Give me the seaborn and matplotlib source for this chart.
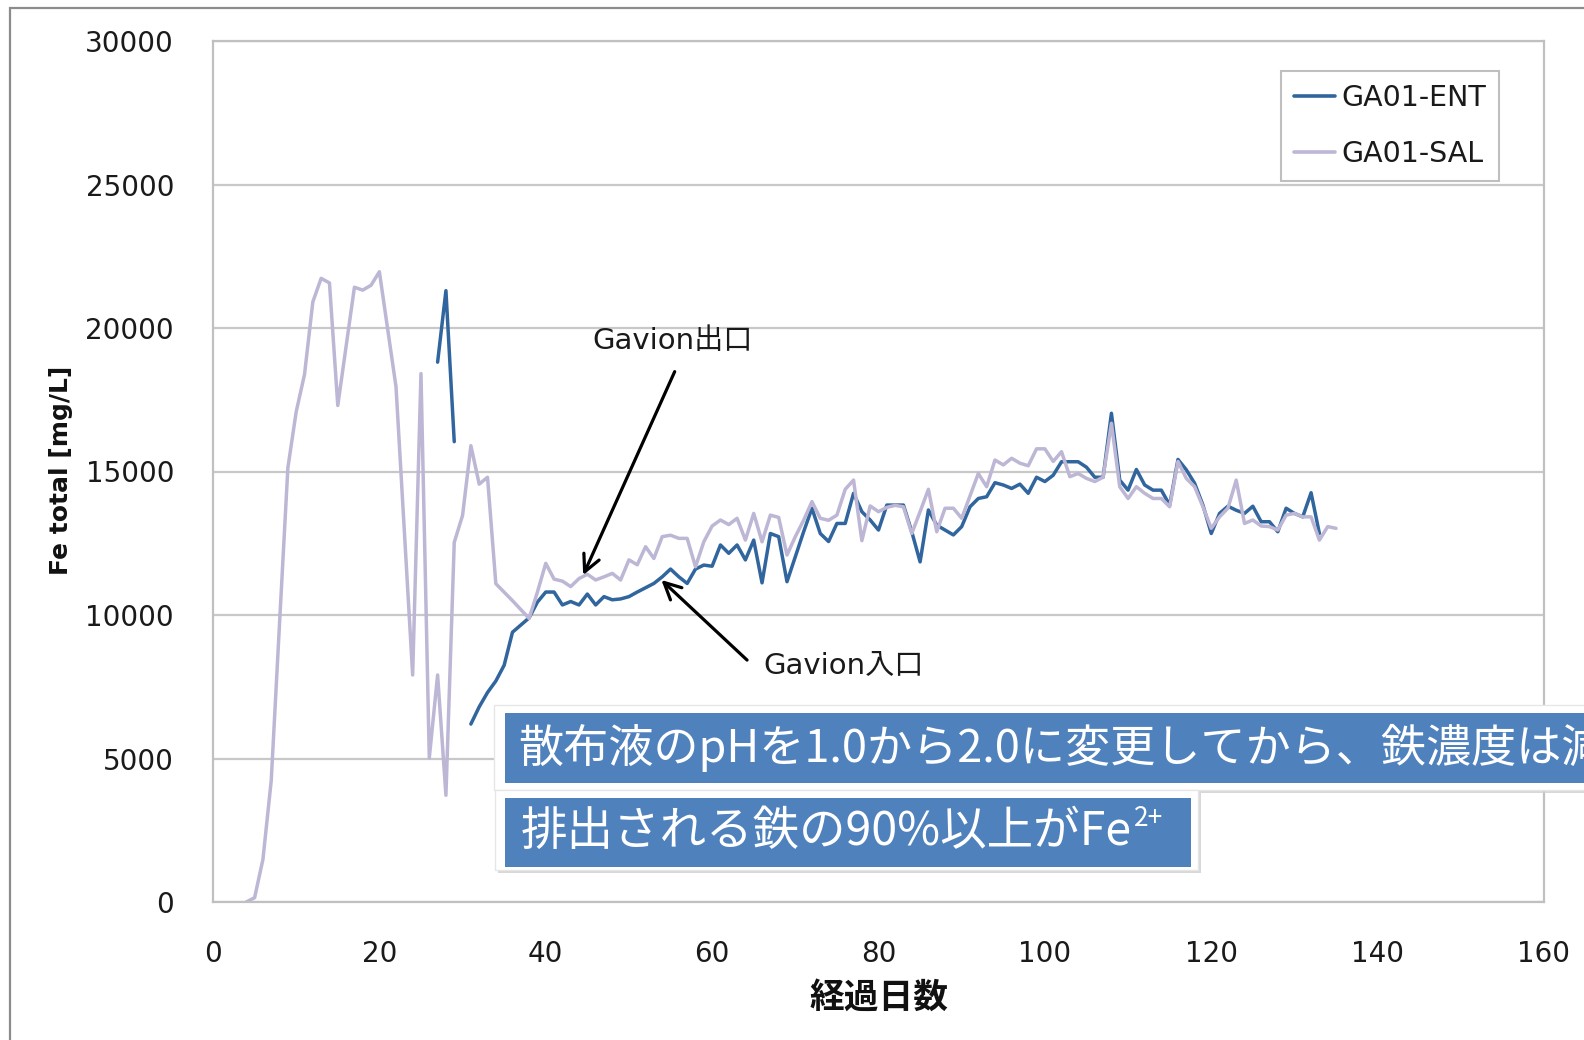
import numpy as np
import pandas as pd
import matplotlib
matplotlib.use("Agg")
import matplotlib.pyplot as plt
import seaborn as sns
from matplotlib.lines import Line2D
from matplotlib.patches import Rectangle

# ---------------- data ----------------
series_names = ["GA01-ENT", "GA01-SAL"]

# Gavion inlet (two measured stretches)
ent_days_a = [27, 28, 29]
ent_vals_a = [18810, 21300, 16040]
ent_days_b = list(range(31, 134))
ent_vals_b = [6200, 6800, 7300, 7700, 8250, 9400, 9650, 9900, 10450, 10800,
              10800, 10350, 10470, 10350, 10730, 10350, 10640, 10530, 10560, 10640,
              10800, 10950, 11100, 11330, 11600, 11330, 11100, 11600, 11740, 11700,
              12440, 12150, 12440, 11920, 12610, 11120, 12840, 12730, 11160, 12030,
              12900, 13720, 12840, 12560, 13190, 13190, 14240, 13600, 13310, 12960,
              13830, 13830, 13830, 12900, 11850, 13660, 13130, 12960, 12790, 13080,
              13770, 14060, 14120, 14610, 14530, 14410, 14560, 14240, 14800, 14650,
              14870, 15340, 15340, 15340, 15150, 14800, 14800, 17030, 14700, 14350,
              15070, 14530, 14350, 14350, 13830, 15420, 15060, 14590, 13830, 12840,
              13540, 13790, 13650, 13540, 13790, 13250, 13250, 12900, 13720, 13540,
              13420, 14260, 12840]

# Gavion outlet
sal_days = [4, 5, 6, 7, 8, 9, 10, 11, 12, 13, 14, 15, 17, 18, 19, 20, 22, 24, 25, 26,
            27, 28, 29, 30, 31, 32, 33, 34, 36, 38, 39] + list(range(40, 136))
sal_vals = [0, 150, 1480, 4230, 9720, 15130, 17080, 18380, 20910, 21730,
            21570, 17300, 21420, 21320, 21490, 21960, 17950, 7910, 18410, 5020,
            7910, 3720, 12530, 13470, 15900, 14560, 14800, 11090, 10500, 9880, 10800,
            11800, 11250, 11180, 10990, 11270, 11420, 11220, 11330, 11450, 11220,
            11920, 11750, 12380, 11970, 12730, 12780, 12670, 12670, 11680, 12550,
            13100, 13310, 13150, 13370, 12610, 13540, 12550, 13480, 13400, 12090,
            12730, 13300, 13950, 13370, 13300, 13480, 14380, 14700, 12590, 13800,
            13600, 13750, 13820, 13770, 12840, 13600, 14380, 12900, 13720, 13720,
            13370, 14150, 14930, 14470, 15400, 15230, 15460, 15290, 15200, 15790,
            15790, 15350, 15690, 14820, 14930, 14760, 14650, 14800, 16680, 14470,
            14060, 14470, 14240, 14060, 14060, 13770, 15350, 14760, 14470, 13770,
            13020, 13420, 13720, 14700, 13190, 13310, 13100, 13080, 12960, 13480,
            13540, 13420, 13420, 12610, 13080, 13020]

x_ticks = list(range(0, 161, 20))
y_ticks = list(range(0, 30001, 5000))

ent_color = "#30659d"
sal_color = "#bdb6d4"

df = pd.concat([
    pd.DataFrame({"day": ent_days_a, "fe": ent_vals_a, "series": series_names[0], "seg": "ent_a"}),
    pd.DataFrame({"day": ent_days_b, "fe": ent_vals_b, "series": series_names[0], "seg": "ent_b"}),
    pd.DataFrame({"day": sal_days, "fe": sal_vals, "series": series_names[1], "seg": "sal"}),
], ignore_index=True)

# ---------------- figure ----------------
sns.set_theme(style="white")
plt.rcParams["font.family"] = ["DejaVu Sans", "Noto Sans CJK JP"]

W, H = 1584, 1040
fig = plt.figure(figsize=(W / 100, H / 100), dpi=100, facecolor="white")


def fx(x):
    return x / W


def fy(y):
    return 1 - y / H


ax = fig.add_axes([fx(213), fy(902), fx(1544) - fx(213), fy(41) - fy(902)])

sns.lineplot(data=df, x="day", y="fe", hue="series", units="seg", estimator=None,
             palette={series_names[0]: ent_color, series_names[1]: sal_color},
             hue_order=series_names, sort=False, linewidth=2.5, ax=ax, legend=False)

ax.set_xlim(0, 160)
ax.set_ylim(0, 30000)
ax.set_xticks(x_ticks)
ax.set_yticks(y_ticks)
ax.set_xticklabels([str(v) for v in x_ticks])
ax.set_yticklabels([str(v) for v in y_ticks])
ax.set_xlabel("")
ax.set_ylabel("")
ax.grid(axis="y", color="#c8c8c8", linewidth=1.6)
ax.grid(axis="x", visible=False)
ax.set_axisbelow(True)
for sp in ax.spines.values():
    sp.set_color("#c0c0c0")
    sp.set_linewidth(1.6)
ax.tick_params(axis="y", length=0, pad=28, labelsize=20, labelcolor="#1a1a1a")
ax.tick_params(axis="x", direction="in", length=5, width=1.4, color="#c0c0c0",
               pad=27, labelsize=20, labelcolor="#1a1a1a")

# axis titles
fig.text(fx(61), fy(470), "Fe total [mg/L]", rotation=90, ha="center", va="center",
         fontsize=18, fontweight="bold", color="#111111")
fig.text(fx(879), fy(997), "経過日数", ha="center", va="center", fontsize=25,
         fontweight="bold", family=["Noto Sans CJK JP"], color="#111111")

# legend
handles = [Line2D([], [], color=ent_color, lw=2.6), Line2D([], [], color=sal_color, lw=2.6)]
leg = ax.legend(handles, series_names, loc="upper right",
                bbox_to_anchor=(fx(1499), fy(71)), bbox_transform=fig.transFigure,
                frameon=True, fancybox=False, edgecolor="#b0b0b0", fontsize=20.5,
                handlelength=1.45, handletextpad=0.22, labelspacing=1.0,
                borderpad=0.45, borderaxespad=0)
leg.get_frame().set_linewidth(1.5)
for t in leg.get_texts():
    t.set_color("#1a1a1a")

# arrows with labels
arrow_kw = dict(arrowstyle="->", color="black", lw=2.3, mutation_scale=30,
                shrinkA=0, shrinkB=0)
ax.annotate("", xy=(44.5, 11390), xytext=(55.5, 18480), arrowprops=arrow_kw)
ax.text(55.2, 19560, "Gavion出口", ha="center", va="center", fontsize=21, color="#1a1a1a")
ax.annotate("", xy=(53.9, 11220), xytext=(64.2, 8430), arrowprops=arrow_kw)
ax.text(75.85, 8240, "Gavion入口", ha="center", va="center", fontsize=21, color="#1a1a1a")

# outer chart frame (left and top edges)
fig.add_artist(Rectangle((fx(10), fy(1200)), fx(1700), fy(8) - fy(1200),
                         transform=fig.transFigure, fill=False,
                         edgecolor="#8c8c8c", linewidth=1.6))

# callout boxes
box_blue = "#4f81bd"


def callout(x0, y0, x1, y1, bx0, by0, bx1, by1):
    fig.add_artist(Rectangle((fx(x0 + 3), fy(y1 + 3)), fx(x1) - fx(x0), fy(y0) - fy(y1),
                             transform=fig.transFigure, facecolor="#cfcfcf",
                             edgecolor="none", alpha=0.8, zorder=5))
    fig.add_artist(Rectangle((fx(x0), fy(y1)), fx(x1) - fx(x0), fy(y0) - fy(y1),
                             transform=fig.transFigure, facecolor="white",
                             edgecolor="#e6e6e6", linewidth=1, zorder=6))
    fig.add_artist(Rectangle((fx(bx0), fy(by1)), fx(bx1) - fx(bx0), fy(by0) - fy(by1),
                             transform=fig.transFigure, facecolor=box_blue,
                             edgecolor="none", zorder=7))


callout(494, 705, 1700, 790, 505, 713, 1700, 783)
callout(495, 790, 1198, 870, 505, 798, 1191, 867)

fig.text(fx(518), fy(748), "散布液のpHを1.0から2.0に変更してから、鉄濃度は減少傾向",
         ha="left", va="center", fontsize=32.5, color="white",
         family=["Noto Sans CJK JP"], zorder=8)
t2 = fig.text(fx(521), fy(832), "排出される鉄の90%以上がFe",
              ha="left", va="center", fontsize=33.5, color="white",
              family=["Noto Sans CJK JP"], zorder=8)
fig.canvas.draw()
bb = t2.get_window_extent()
fig.text(bb.x1 / W + 0.001, fy(818), "2+", ha="left", va="center", fontsize=19,
         color="white", family=["Noto Sans CJK JP"], zorder=8)

fig.savefig("out.png", dpi=100, facecolor="white")
